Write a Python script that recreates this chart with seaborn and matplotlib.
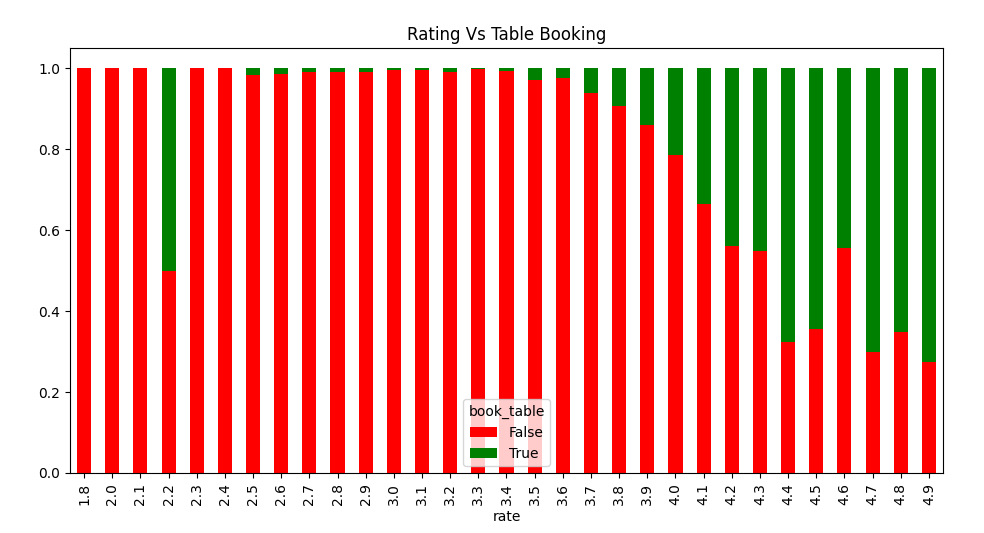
import pandas as pd
import numpy as np
import matplotlib
matplotlib.use('Agg')
import matplotlib.pyplot as plt
import seaborn as sns

rates = ['1.8', '2.0', '2.1', '2.2', '2.3', '2.4', '2.5', '2.6', '2.7', '2.8', '2.9',
         '3.0', '3.1', '3.2', '3.3', '3.4', '3.5', '3.6', '3.7', '3.8', '3.9', '4.0',
         '4.1', '4.2', '4.3', '4.4', '4.5', '4.6', '4.7', '4.8', '4.9']
false_share = [1.0, 1.0, 1.0, 0.5, 1.0, 1.0, 0.983, 0.985, 0.99, 0.99, 0.99,
               0.995, 0.995, 0.99, 0.997, 0.993, 0.97, 0.975, 0.94, 0.906, 0.859, 0.785,
               0.664, 0.56, 0.548, 0.323, 0.355, 0.555, 0.30, 0.348, 0.274]
true_share = [1 - v for v in false_share]

df = pd.DataFrame({'False': false_share, 'True': true_share}, index=pd.Index(rates, name='rate'))
df.columns.name = 'book_table'

fig = plt.figure(figsize=(9.84, 5.33), dpi=100)
ax = fig.add_axes([70 / 984, 1 - 473 / 533, 873 / 984, 425 / 533])
df.plot(kind='bar', stacked=True, color=['red', 'green'], ax=ax)
ax.set_title('Rating Vs Table Booking')
ax.legend(title='book_table', loc='lower center')
fig.savefig('out.png', dpi=100)
